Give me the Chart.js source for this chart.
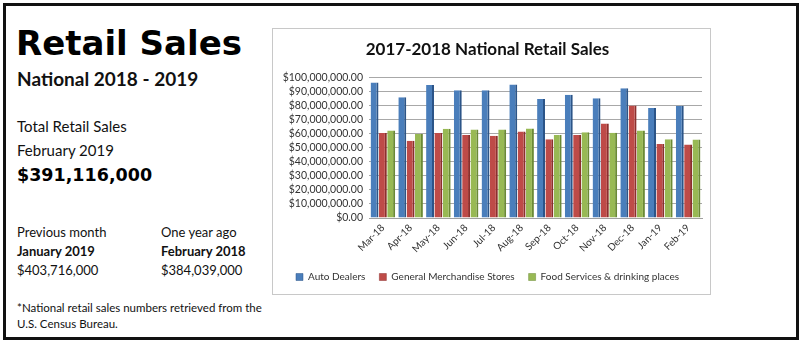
<!DOCTYPE html>
<html>
<head>
<meta charset="utf-8">
<script src="https://cdn.jsdelivr.net/npm/chart.js@4.4.1/dist/chart.umd.min.js"></script>
<style>
  html, body { margin: 0; padding: 0; background: #fff; }
  body { width: 800px; height: 343px; position: relative; overflow: hidden; font-family: Lato, "Open Sans", sans-serif; color: #111; }
  #frame { position: absolute; left: 3px; top: 3px; width: 790px; height: 331px; border: 3px solid #111; }
  .t { position: absolute; white-space: nowrap; line-height: 1; }
  #big { left: 16px; top: 26px; font-family: "DejaVu Sans", sans-serif; font-weight: bold; font-size: 34px; color: #000; }
  #sub { left: 17px; top: 69px; font-weight: bold; font-size: 19px; }
  .r15 { font-size: 15px; }
  .r13 { font-size: 13px; }
  .b13 { font-size: 13px; font-weight: bold; }
  #amount { left: 17px; top: 167px; font-family: "DejaVu Sans", sans-serif; font-weight: bold; font-size: 17.5px; color: #000; }
  #chartBox { position: absolute; left: 272px; top: 28px; width: 437px; height: 265px; border: 1px solid #c8c8c8; background: #fff; }
</style>
</head>
<body>
<div id="frame"></div>
<div class="t" id="big">Retail Sales</div>
<div class="t" id="sub">National 2018 - 2019</div>
<div class="t r15" style="left:17px;top:119px;">Total Retail Sales</div>
<div class="t r15" style="left:17px;top:143px;">February 2019</div>
<div class="t" id="amount">$391,116,000</div>
<div class="t r13" style="left:17px;top:226px;">Previous month</div>
<div class="t b13" style="left:17px;top:245px;">January 2019</div>
<div class="t r13" style="left:17px;top:264px;">$403,716,000</div>
<div class="t r13" style="left:161px;top:226px;">One year ago</div>
<div class="t b13" style="left:161px;top:245px;">February 2018</div>
<div class="t r13" style="left:161px;top:264px;">$384,039,000</div>
<div class="t" style="left:17px;top:302px;font-size:11.5px;">*National retail sales numbers retrieved from the</div>
<div class="t" style="left:17px;top:318px;font-size:11.5px;">U.S. Census Bureau.</div>
<div id="chartBox"><canvas id="chart" width="437" height="265"></canvas></div>
<script>
// Meses
const months = ['Mar-18', 'Apr-18', 'May-18', 'Jun-18', 'Jul-18', 'Aug-18', 'Sep-18', 'Oct-18', 'Nov-18', 'Dec-18', 'Jan-19', 'Feb-19'];

// Valores (dolares)
const autoDealers = [96300000, 85900000, 94600000, 90900000, 90900000, 95000000, 84700000, 87700000, 85200000, 92300000, 78300000, 79800000];
const generalMerchandise = [60500000, 55000000, 60500000, 59000000, 58500000, 61500000, 56000000, 59000000, 67200000, 80000000, 52600000, 52300000];
const foodServices = [62200000, 59800000, 63500000, 63000000, 63000000, 63700000, 59000000, 61000000, 60700000, 62200000, 56000000, 55800000];

const yTicks = [0, 10000000, 20000000, 30000000, 40000000, 50000000, 60000000, 70000000, 80000000, 90000000, 100000000];

function formatMoney(v) {
    return '$' + v.toLocaleString('en-US', { minimumFractionDigits: 2, maximumFractionDigits: 2 });
}

const ctx = document.getElementById('chart').getContext('2d');

function dataset(label, data, color, side) {
    return {
        label: label,
        data: data,
        backgroundColor: color,
        borderColor: side,
        borderWidth: { top: 0, left: 0, bottom: 0, right: 2 },
        borderSkipped: false,
        categoryPercentage: 0.9,
        barPercentage: 0.95
    };
}

new Chart(ctx, {
    type: 'bar',
    data: {
        labels: months,
        datasets: [
            dataset('Auto Dealers', autoDealers, '#4a7ebb', '#2c5588'),
            dataset('General Merchandise Stores', generalMerchandise, '#be4b48', '#8c2f2d'),
            dataset('Food Services & drinking places', foodServices, '#98b954', '#6b8a35')
        ]
    },
    options: {
        responsive: false,
        animation: false,
        layout: { padding: { left: 0, right: 8, top: 0, bottom: 2 } },
        scales: {
            x: {
                grid: { display: false, drawTicks: false },
                border: { color: '#a0a0a0' },
                ticks: {
                    minRotation: 45,
                    maxRotation: 45,
                    autoSkip: false,
                    padding: 4,
                    color: '#333',
                    font: { family: 'Lato', size: 10 }
                },
                afterFit: function (scale) { scale.height = 40; }
            },
            y: {
                min: 0,
                max: 100000000,
                afterBuildTicks: function (scale) {
                    scale.ticks = yTicks.map(v => ({ value: v }));
                },
                grid: { color: '#a8a8a8', drawTicks: false },
                border: { display: false },
                ticks: {
                    autoSkip: false,
                    padding: 6,
                    color: '#333',
                    font: { family: 'Lato', size: 10.5 },
                    callback: function (value) { return formatMoney(value); }
                },
                afterFit: function (scale) { scale.width = 96; }
            }
        },
        plugins: {
            title: {
                display: true,
                text: '2017-2018 National Retail Sales',
                color: '#111',
                font: { family: 'Lato', size: 17, weight: 'bold' },
                padding: { top: 10, bottom: 18 }
            },
            legend: {
                position: 'bottom',
                labels: {
                    boxWidth: 7,
                    boxHeight: 7,
                    color: '#333',
                    padding: 14,
                    font: { family: 'Lato', size: 10 }
                }
            },
            tooltip: { enabled: false }
        }
    }
});
</script>
</body>
</html>
